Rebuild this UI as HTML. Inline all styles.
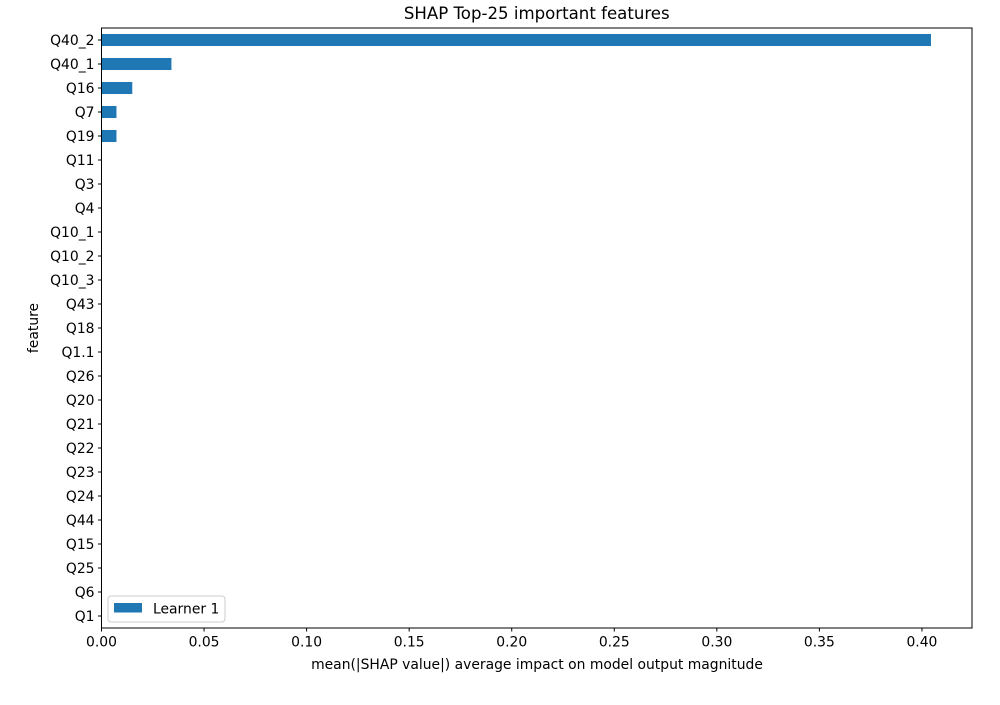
<!DOCTYPE html>
<html><head><meta charset="utf-8"><style>
body{margin:0;background:#fff}
text{font-family:"DejaVu Sans","Liberation Sans",sans-serif;fill:#000}
</style></head><body>
<svg id="chart" width="1000" height="700" xmlns="http://www.w3.org/2000/svg"></svg>
<script>
const categories=["Q40_2","Q40_1","Q16","Q7","Q19","Q11","Q3","Q4","Q10_1","Q10_2","Q10_3","Q43","Q18","Q1.1","Q26","Q20","Q21","Q22","Q23","Q24","Q44","Q15","Q25","Q6","Q1"];
const values=[0.4044,0.0341,0.0150,0.0073,0.0073,0,0,0,0,0,0,0,0,0,0,0,0,0,0,0,0,0,0,0,0];
const xTicks=[0,0.05,0.1,0.15,0.2,0.25,0.3,0.35,0.4];
const xTickLabels=["0.00","0.05","0.10","0.15","0.20","0.25","0.30","0.35","0.40"];
const svg=document.getElementById('chart');
const NS='http://www.w3.org/2000/svg';
const L=101.5,R=972,T=28,B=628;
const xMax=0.4244;
const FS=13.9;
const x=v=>L+v/xMax*(R-L);
const n=categories.length;
const step=(B-T)/n;
const y=i=>T+step*(i+0.5);
function el(tag,attrs,parent){const e=document.createElementNS(NS,tag);for(const k in attrs)e.setAttribute(k,attrs[k]);(parent||svg).appendChild(e);return e;}
values.forEach((v,i)=>{
  const r=el('rect',{x:L,y:y(i)-step*0.25,width:Math.max(0,x(v)-L),height:step*0.5,fill:'#1f77b4'});
  
  
});
const fr=el('rect',{x:L,y:T,width:R-L,height:B-T,fill:'none',stroke:'#000','stroke-width':1});


categories.forEach((c,i)=>{
  el('line',{x1:L-3.5,x2:L,y1:y(i),y2:y(i),stroke:'#000'});
  const t=el('text',{x:L-7,y:y(i)+5,'text-anchor':'end','font-size':FS});
  t.textContent=c;
  
  
});
xTicks.forEach((v,i)=>{
  el('line',{x1:x(v),x2:x(v),y1:B,y2:B+3.5,stroke:'#000'});
  const t=el('text',{x:x(v),y:B+18.5,'text-anchor':'middle','font-size':FS});
  t.textContent=xTickLabels[i];
  
  
});
let t=el('text',{x:(L+R)/2,y:19,'text-anchor':'middle','font-size':16.6});
t.textContent='SHAP Top-25 important features';


t=el('text',{x:537,y:669,'text-anchor':'middle','font-size':FS});
t.textContent='mean(|SHAP value|) average impact on model output magnitude';


t=el('text',{x:0,y:0,'text-anchor':'middle','font-size':FS,transform:'translate(38,328) rotate(-90)'});
t.textContent='feature';


const g=el('g',{});


el('rect',{x:108,y:596,width:117,height:26,rx:3,fill:'#fff','fill-opacity':0.8,stroke:'#ccc'},g);
el('rect',{x:114,y:603,width:28,height:9.5,fill:'#1f77b4'},g);
const lt=el('text',{x:153,y:613.5,'font-size':FS},g);
lt.textContent='Learner 1';


</script>
</body></html>
